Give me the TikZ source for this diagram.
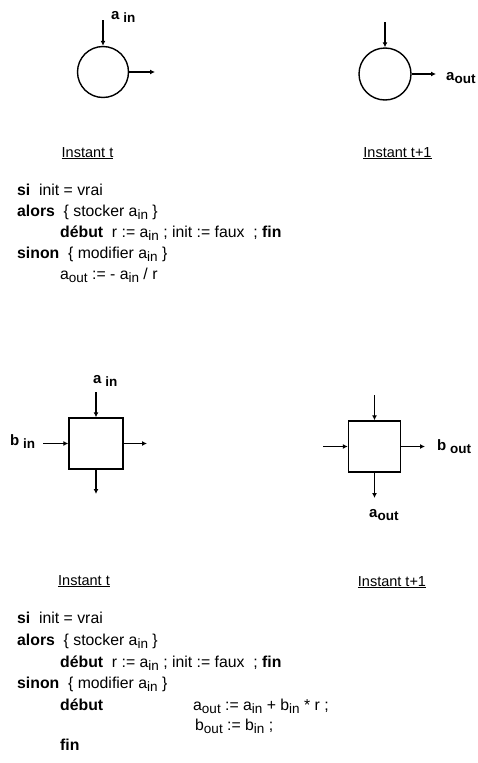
\documentclass[tikz,border=0pt]{standalone}
\usepackage{fontspec}
\setmainfont{Liberation Sans}
\usetikzlibrary{arrows.meta}
\newcommand\lo[1]{\raisebox{-0.45ex}{\fontsize{13.5}{13.5}\selectfont #1}}
\newcommand\kw[1]{\textbf{#1}}
\begin{document}
\begin{tikzpicture}[x=1pt,y=-1pt,
  arr/.style={-{Latex[length=5pt,width=5pt]}, line width=1.3pt},
  shapeline/.style={draw, line width=1.4pt},
  lbl/.style={anchor=base west, inner sep=0pt, font=\fontsize{15}{15}\selectfont\bfseries},
  ttl/.style={anchor=base, inner sep=0pt, font=\fontsize{14.5}{14.5}\selectfont},
  code/.style={anchor=base west, inner sep=0pt, font=\fontsize{15.8}{15.8}\selectfont},
]
\useasboundingbox (0,0) rectangle (478,763);
% ---------- top : circles ----------
\node[shapeline, circle, minimum size=51pt, inner sep=0pt] (c1) at (103,72) {};
\coordinate (c1top) at (103,20);
\coordinate (c1right) at (155,72);
\draw[arr] (c1top) -- (c1.north);
\draw[arr] (c1.east) -- (c1right);
\node[lbl] (c1ain) at (111,19) {a\lo{ in}};

\node[shapeline, circle, minimum size=52pt, inner sep=0pt] (c2) at (385,74) {};
\coordinate (c2top) at (385,22);
\coordinate (c2right) at (436,74);
\draw[arr] (c2top) -- (c2.north);
\draw[arr] (c2.east) -- (c2right);
\node[lbl] (c2aout) at (446,80) {a\lo{out}};

\node[ttl] (t1) at (87.5,157) {\underline{Instant t}};
\node[ttl] (t2) at (397.5,157) {\underline{Instant t+1}};

% ---------- code 1 ----------
\node[code] (l1) at (17,195) {\kw{si}\ \ init = vrai};
\node[code] (l2) at (17,216) {\kw{alors}\ \ \{ stocker a\lo{in} \}};
\node[code] (l3) at (60,237) {\kw{début}\ \ r := a\lo{in} ; init := faux\ \ ; \kw{fin}};
\node[code] (l4) at (17,258) {\kw{sinon}\ \ \{ modifier a\lo{in} \}};
\node[code] (l5) at (60,279) {a\lo{out} := - a\lo{in} / r};

% ---------- middle : squares ----------
\node[shapeline, rectangle, minimum width=54pt, minimum height=51pt, inner sep=0pt] (s1) at (96,443.5) {};
\coordinate (s1top) at (96,392);
\coordinate (s1left) at (43,443.5);
\coordinate (s1right) at (147,443.5);
\coordinate (s1bot) at (96,494);
\draw[arr] (s1top) -- (s1.north);
\draw[arr] (s1left) -- (s1.west);
\draw[arr] (s1.east) -- (s1right);
\draw[arr] (s1.south) -- (s1bot);
\node[lbl] (s1ain) at (93,383) {a\lo{ in}};
\node[lbl] (s1bin) at (10,445) {b\lo{ in}};

\node[shapeline, rectangle, minimum width=52pt, minimum height=51pt, inner sep=0pt] (s2) at (374.5,446.5) {};
\coordinate (s2top) at (374.5,395);
\coordinate (s2left) at (323,446.5);
\coordinate (s2right) at (425,446.5);
\coordinate (s2bot) at (374.5,498);
\draw[arr] (s2top) -- (s2.north);
\draw[arr] (s2left) -- (s2.west);
\draw[arr] (s2.east) -- (s2right);
\draw[arr] (s2.south) -- (s2bot);
\node[lbl] (s2bout) at (437,450) {b\lo{ out}};
\node[lbl] (s2aout) at (369,517) {a\lo{out}};

\node[ttl] (t3) at (84,585) {\underline{Instant t}};
\node[ttl] (t4) at (392,586) {\underline{Instant t+1}};

% ---------- code 2 ----------
\node[code] (m1) at (17,623) {\kw{si}\ \ init = vrai};
\node[code] (m2) at (17,645) {\kw{alors}\ \ \{ stocker a\lo{in} \}};
\node[code] (m3) at (60,667) {\kw{début}\ \ r := a\lo{in} ; init := faux\ \ ; \kw{fin}};
\node[code] (m4) at (17,688) {\kw{sinon}\ \ \{ modifier a\lo{in} \}};
\node[code] (m5) at (60,710) {\kw{début}};
\node[code] (m6) at (193,710) {a\lo{out} := a\lo{in} + b\lo{in} * r ;};
\node[code] (m7) at (195,730) {b\lo{out} := b\lo{in} ;};
\node[code] (m8) at (60,750) {\kw{fin}};
\end{tikzpicture}
\end{document}
